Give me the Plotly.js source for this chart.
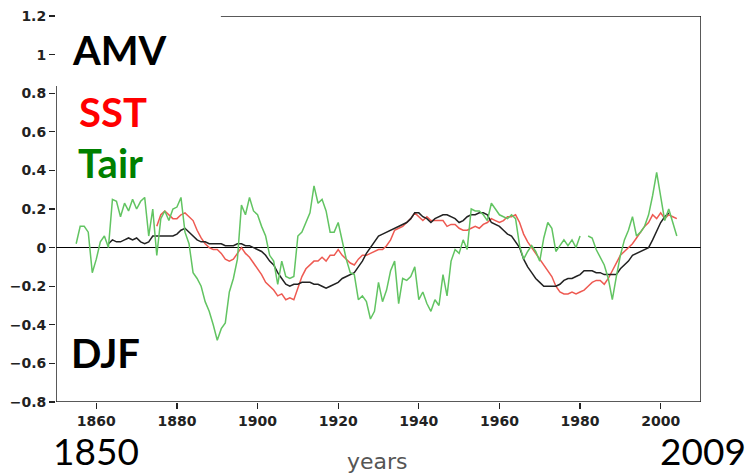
<!DOCTYPE html>
<html>
<head>
<meta charset="utf-8">
<script src="https://cdn.plot.ly/plotly-3.0.1.min.js"></script>
<style>html,body{margin:0;padding:0;background:#fff;}#chart{width:747px;height:473px;}</style>
</head>
<body>
<div id="chart"></div>
<script>
// AMV index (black), 1863-2002
const amvStart = 1863;
const amvValues = [
 0.02,0.04,0.03,0.03,0.04,0.05,0.04,0.05,0.03,0.02,
 0.03,0.06,0.06,0.06,0.06,0.06,0.06,0.07,0.09,0.10,
 0.08,0.06,0.04,0.03,0.03,0.02,0.02,0.02,0.02,0.01,
 0.01,0.01,0.02,0.02,0.01,0.01,0.00,-0.01,-0.02,-0.04,
 -0.07,-0.09,-0.13,-0.16,-0.19,-0.20,-0.19,-0.19,-0.18,-0.18,
 -0.18,-0.19,-0.19,-0.20,-0.21,-0.20,-0.19,-0.18,-0.16,-0.15,
 -0.14,-0.13,-0.10,-0.07,-0.03,0.00,0.03,0.06,0.07,0.08,
 0.09,0.10,0.11,0.12,0.13,0.15,0.18,0.18,0.16,0.15,
 0.13,0.15,0.16,0.17,0.17,0.16,0.15,0.13,0.14,0.16,
 0.17,0.17,0.18,0.18,0.17,0.13,0.12,0.11,0.09,0.07,
 0.06,0.03,0.00,-0.06,-0.10,-0.13,-0.16,-0.18,-0.20,-0.20,
 -0.20,-0.20,-0.19,-0.17,-0.16,-0.16,-0.15,-0.14,-0.12,-0.12,
 -0.12,-0.13,-0.13,-0.14,-0.14,-0.14,-0.14,-0.11,-0.09,-0.07,
 -0.04,-0.03,-0.02,-0.01,0.00,0.04,0.09,0.13,0.16,0.18
];
// SST (red), 1875-2004
const sstStart = 1875;
const sstValues = [
 0.11,0.17,0.19,0.17,0.15,0.15,0.17,0.18,0.16,0.14,
 0.09,0.05,0.02,0.00,-0.01,-0.01,-0.03,-0.06,-0.07,-0.06,
 -0.03,0.00,-0.03,-0.05,-0.08,-0.11,-0.14,-0.18,-0.20,-0.22,
 -0.25,-0.24,-0.27,-0.26,-0.27,-0.21,-0.15,-0.11,-0.09,-0.07,
 -0.07,-0.05,-0.07,-0.04,-0.04,-0.01,-0.04,-0.06,-0.08,-0.09,
 -0.06,-0.04,-0.04,-0.03,-0.02,-0.01,-0.01,0.01,0.04,0.09,
 0.10,0.11,0.13,0.15,0.18,0.16,0.14,0.16,0.14,0.14,
 0.14,0.14,0.11,0.12,0.12,0.10,0.09,0.09,0.10,0.11,
 0.10,0.12,0.13,0.15,0.14,0.13,0.14,0.16,0.16,0.17,
 0.13,0.07,0.03,0.00,-0.03,-0.06,-0.09,-0.12,-0.15,-0.20,
 -0.23,-0.24,-0.24,-0.23,-0.24,-0.23,-0.22,-0.20,-0.18,-0.17,
 -0.17,-0.19,-0.16,-0.12,-0.08,-0.04,-0.02,0.00,0.02,0.05,
 0.08,0.11,0.13,0.17,0.15,0.18,0.15,0.17,0.16,0.15
];
// Tair (green), 1855-2004 (1981 missing)
const tairStart = 1855;
const tairValues = [
 0.02,0.11,0.11,0.08,-0.13,-0.06,0.03,0.06,0.00,0.25,
 0.24,0.16,0.23,0.19,0.25,0.20,0.24,0.26,0.06,0.20,
 -0.04,0.15,0.19,0.14,0.20,0.21,0.26,0.08,0.02,-0.13,
 -0.16,-0.20,-0.28,-0.33,-0.40,-0.48,-0.42,-0.39,-0.23,-0.16,
 -0.06,0.22,0.17,0.26,0.19,0.17,0.11,0.06,-0.04,-0.07,
 -0.19,-0.07,-0.15,-0.16,-0.15,0.06,0.08,0.13,0.18,0.32,
 0.23,0.25,0.19,0.08,0.08,0.13,0.03,-0.06,-0.13,-0.14,
 -0.27,-0.25,-0.28,-0.37,-0.33,-0.18,-0.28,-0.22,-0.12,-0.07,
 -0.29,-0.16,-0.17,-0.15,-0.10,-0.27,-0.23,-0.29,-0.33,-0.27,
 -0.30,-0.14,-0.25,-0.07,-0.01,-0.03,0.04,-0.01,0.20,0.19,
 0.19,0.17,0.14,0.23,0.20,0.17,0.16,0.15,0.17,0.15,
 0.01,-0.06,-0.02,0.01,-0.02,-0.07,0.05,0.13,0.10,-0.02,
 0.01,0.04,0.01,0.04,0.00,0.06,null,0.06,0.05,-0.01,
 -0.05,-0.09,-0.16,-0.27,-0.15,-0.04,0.04,0.09,0.16,0.06,
 0.08,0.11,0.17,0.27,0.39,0.26,0.14,0.20,0.13,0.06
];
const yTicks = [-0.8,-0.6,-0.4,-0.2,0,0.2,0.4,0.6,0.8,1,1.2];
const yTickLabels = ['\u22120.8','\u22120.6','\u22120.4','\u22120.2','0','0.2','0.4','0.6','0.8','1','1.2'];
const xTicks = [1860,1880,1900,1920,1940,1960,1980,2000];

function years(start, vals){ return vals.map((_,i)=>start+i); }

const traces = [
  {x: years(sstStart, sstValues), y: sstValues, mode:'lines', line:{color:'#ee5a52', width:1.5}, connectgaps:false, hoverinfo:'skip'},
  {x: years(amvStart, amvValues), y: amvValues, mode:'lines', line:{color:'#222', width:1.5}, hoverinfo:'skip'},
  {x: years(tairStart, tairValues), y: tairValues, mode:'lines', line:{color:'#62c462', width:1.5}, connectgaps:false, hoverinfo:'skip'}
];

const frameColor = '#222';
const xTickFont = {family:'DejaVu Sans, sans-serif', size:14, color:'#222'};
const yTickFont = {family:'DejaVu Sans, sans-serif', size:14, color:'#222'};
const layout = {
  width:747, height:473,
  margin:{l:56, r:46, t:16, b:71},
  font: yTickFont,
  paper_bgcolor:'#fff', plot_bgcolor:'#fff',
  showlegend:false,
  xaxis:{range:[1850,2010], tickmode:'array', tickvals:xTicks, ticktext:xTicks.map(v=>'<b>'+v+'</b>'),
         ticks:'outside', ticklen:6, tickcolor:frameColor, tickwidth:1.3,
         showgrid:false, zeroline:false, showline:false, tickfont:xTickFont},
  yaxis:{range:[-0.8,1.2], tickmode:'array', tickvals:yTicks, ticktext:yTickLabels.map(v=>'<b>'+v+'</b>'),
         ticks:'outside', ticklen:6, tickcolor:frameColor, tickwidth:1.3,
         showgrid:false, zeroline:true, zerolinecolor:'#000', zerolinewidth:1.6, showline:false, tickfont:yTickFont},
  shapes:[
    {type:'line', xref:'x', yref:'y', x0:1850, x1:1850, y0:-0.8, y1:0.837, line:{color:frameColor, width:1.5}},
    {type:'line', xref:'x', yref:'y', x0:1850, x1:2010, y0:-0.8, y1:-0.8, line:{color:frameColor, width:1.5}},
    {type:'line', xref:'x', yref:'y', x0:2010, x1:2010, y0:-0.8, y1:1.2, line:{color:frameColor, width:1.5}},
    {type:'line', xref:'x', yref:'y', x0:1890.9, x1:2010, y0:1.2, y1:1.2, line:{color:frameColor, width:1.5}}
  ],
  annotations:[
    {text:'AMV', xref:'paper', yref:'paper', x:0.022, y:0.912, xanchor:'left', yanchor:'middle', showarrow:false,
     font:{family:'Lato, Open Sans, sans-serif', size:40, color:'#000', weight:'bold'}},
    {text:'SST', xref:'paper', yref:'paper', x:0.032, y:0.751, xanchor:'left', yanchor:'middle', showarrow:false,
     font:{family:'Lato, Open Sans, sans-serif', size:40, color:'#ff0000', weight:'bold'}},
    {text:'Tair', xref:'paper', yref:'paper', x:0.031, y:0.619, xanchor:'left', yanchor:'middle', showarrow:false,
     font:{family:'Lato, Open Sans, sans-serif', size:40, color:'#008000', weight:'bold'}},
    {text:'DJF', xref:'paper', yref:'paper', x:0.020, y:0.127, xanchor:'left', yanchor:'middle', showarrow:false,
     font:{family:'Lato, Open Sans, sans-serif', size:40, color:'#000', weight:'bold'}},
    {text:'1850', xref:'paper', yref:'paper', x:-0.006, y:-0.1265, xanchor:'left', yanchor:'middle', showarrow:false, borderpad:0,
     font:{family:'Lato, Open Sans, sans-serif', size:37, color:'#000'}},
    {text:'2009', xref:'paper', yref:'paper', x:1.072, y:-0.1265, xanchor:'right', yanchor:'middle', showarrow:false, borderpad:0,
     font:{family:'Lato, Open Sans, sans-serif', size:37, color:'#000'}},
    {text:'years', xref:'paper', yref:'paper', x:0.498, y:-0.153, xanchor:'center', yanchor:'middle', showarrow:false,
     font:{family:'DejaVu Sans, sans-serif', size:22, color:'#555'}}
  ]
};

Plotly.newPlot('chart', traces, layout, {staticPlot:true, displayModeBar:false});
</script>
</body>
</html>
